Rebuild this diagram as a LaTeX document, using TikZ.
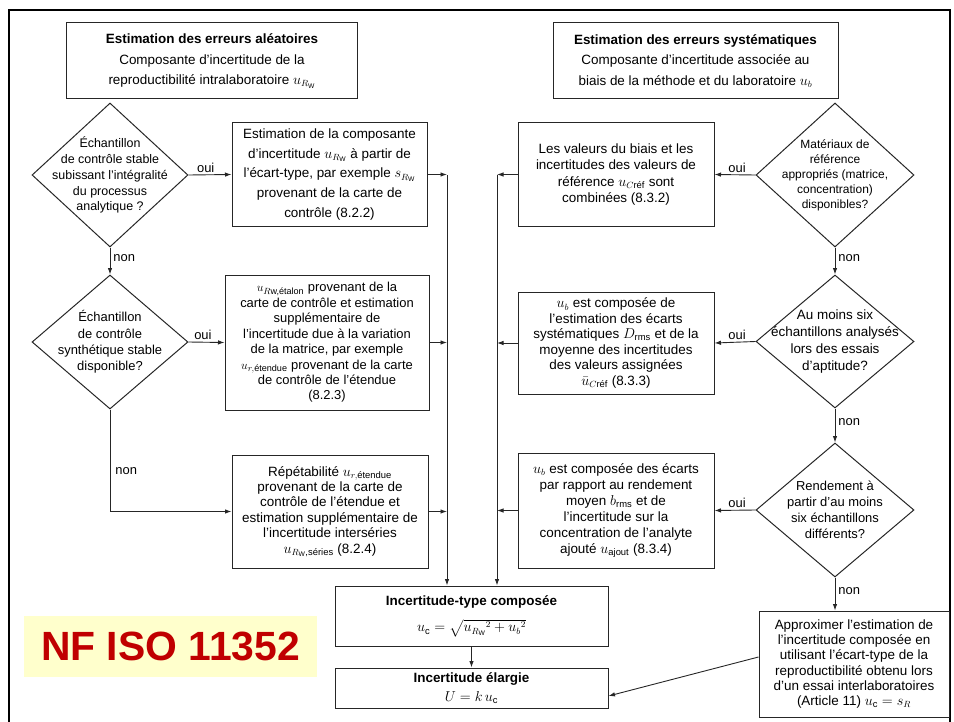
\documentclass[tikz,border=0pt]{standalone}
\usepackage{amsmath}
\usepackage{fontspec}
\setmainfont{Liberation Sans}
\usetikzlibrary{shapes.geometric,arrows.meta}
\definecolor{nfred}{HTML}{C00000}
\definecolor{nfyellow}{HTML}{FFFFCC}
\begin{document}
\begin{tikzpicture}[x=1bp,y=-1bp,
  conn/.style={line width=0.9bp, draw=black!85},
  arr/.style={conn, -{Latex[length=6.5bp,width=4.5bp]}},
  box/.style={draw=black!85, line width=1bp, rectangle, align=center, inner sep=0pt},
  dia/.style={draw=black!85, line width=1bp, diamond, inner sep=0pt},
  txt/.style={align=center, inner sep=0pt},
  lab/.style={font=\fontsize{13}{15}\selectfont, inner sep=1bp},
]
\useasboundingbox (0,0) rectangle (954,722);
% frame
\draw[line width=2.8bp] (9,722) -- (9,10) -- (950,10) -- (950,722);

% top boxes
\node[box, minimum width=290bp, minimum height=76bp, font=\fontsize{13.5}{20.5}\selectfont] (tl) at (212,61)
  {\textbf{Estimation des erreurs aléatoires}\\Composante d'incertitude de la\\reproductibilité intralaboratoire $u_{R_\mathrm{W}}$};
\node[box, minimum width=285bp, minimum height=76bp, font=\fontsize{13.5}{20.5}\selectfont] (tr) at (695.5,61)
  {\textbf{Estimation des erreurs systématiques}\\Composante d'incertitude associée au\\biais de la méthode et du laboratoire $u_b$};

% left column
\node[dia, minimum width=156bp, minimum height=144bp] (dl1) at (110,175) {};
\node[txt, font=\fontsize{12.5}{16}\selectfont] at (dl1.center)
  {Échantillon\\de contrôle stable\\subissant l'intégralité\\du processus\\analytique ?};
\node[box, minimum width=195bp, minimum height=103bp, font=\fontsize{13.5}{20}\selectfont] (L1) at (329.5,174.5)
  {Estimation de la composante\\d'incertitude $u_{R_\mathrm{W}}$ à partir de\\l'écart-type, par exemple $s_{R_\mathrm{W}}$\\provenant de la carte de\\contrôle (8.2.2)};

\node[dia, minimum width=156bp, minimum height=134bp] (dl2) at (110,342) {};
\node[txt, font=\fontsize{13}{16.5}\selectfont] at (dl2.center)
  {Échantillon\\de contrôle\\synthétique stable\\disponible?};
\node[box, minimum width=204bp, minimum height=135bp, font=\fontsize{13}{15.5}\selectfont] (L2) at (327,342.5)
  {$u_{R\text{w,étalon}}$ provenant de la\\carte de contrôle et estimation\\supplémentaire de\\l'incertitude due à la variation\\de la matrice, par exemple\\$u_{r,\text{étendue}}$ provenant de la carte\\de contrôle de l'étendue\\(8.2.3)};

\node[box, minimum width=196bp, minimum height=113bp, font=\fontsize{13.5}{15.5}\selectfont] (L3) at (330,511.5)
  {Répétabilité $u_{r,\text{étendue}}$\\provenant de la carte de\\contrôle de l'étendue et\\estimation supplémentaire de\\l'incertitude interséries\\$u_{R_\mathrm{W}\text{,séries}}$ (8.2.4)};

% right column
\node[dia, minimum width=158bp, minimum height=144bp] (dr1) at (835,175) {};
\node[txt, font=\fontsize{12}{15}\selectfont] at (dr1.center)
  {Matériaux de\\référence\\appropriés (matrice,\\concentration)\\disponibles?};
\node[box, minimum width=196bp, minimum height=103bp, font=\fontsize{13.5}{16.7}\selectfont] (R1) at (616,174.5)
  {Les valeurs du biais et les\\incertitudes des valeurs de\\référence $u_{C\text{réf}}$ sont\\combinées (8.3.2)};

\node[dia, minimum width=158bp, minimum height=133bp] (dr2) at (835,341.5) {};
\node[txt, font=\fontsize{13.5}{17}\selectfont] at (dr2.center)
  {Au moins six\\échantillons analysés\\lors des essais\\d'aptitude?};
\node[box, minimum width=196bp, minimum height=102bp, font=\fontsize{13.5}{15.5}\selectfont] (R2) at (616,343)
  {$u_b$ est composée de\\l'estimation des écarts\\systématiques $D_\text{rms}$ et de la\\moyenne des incertitudes\\des valeurs assignées\\$\bar{u}_{C\text{réf}}$ (8.3.3)};

\node[dia, minimum width=158bp, minimum height=134bp] (dr3) at (835,510) {};
\node[txt, font=\fontsize{13}{16}\selectfont] at (dr3.center)
  {Rendement à\\partir d'au moins\\six échantillons\\différents?};
\node[box, minimum width=196bp, minimum height=115bp, font=\fontsize{13.5}{16}\selectfont] (R3) at (616,510.5)
  {$u_b$ est composée des écarts\\par rapport au rendement\\moyen $b_\text{rms}$ et de\\l'incertitude sur la\\concentration de l'analyte\\ajouté $u_\text{ajout}$ (8.3.4)};

% bottom
\node[box, minimum width=273bp, minimum height=60bp, font=\fontsize{13.5}{27}\selectfont] (comp) at (471.5,616)
  {\textbf{Incertitude-type composée}\\$u_\mathrm{c} = \sqrt{{u_{R_\mathrm{W}}}^2 + {u_b}^2}$};
\node[box, minimum width=273bp, minimum height=40bp, font=\fontsize{13.5}{19}\selectfont] (elar) at (471.5,688)
  {\textbf{Incertitude élargie}\\$U = k\,u_\mathrm{c}$};
\node[box, minimum width=190bp, minimum height=106bp, font=\fontsize{13.5}{15.3}\selectfont] (appr) at (854,664)
  {Approximer l'estimation de\\l'incertitude composée en\\utilisant l'écart-type de la\\reproductibilité obtenu lors\\d'un essai interlaboratoires\\(Article 11) $u_\mathrm{c} = s_R$};

\node[fill=nfyellow, minimum width=293bp, minimum height=61bp, inner sep=0pt,
      font=\fontsize{41}{41}\selectfont\bfseries, text=nfred] (nf) at (170.5,646.5) {NF ISO 11352};

% junction coordinates
\coordinate (jl) at (447,175);
\coordinate (jr) at (497,175);

% left connectors
\draw[arr] (dl1.east) -- node[lab, above=1bp, pos=0.4] {oui} (L1.west);
\draw[arr] (dl1.south) -- node[lab, right=2bp, pos=0.4] {non} (dl2.north);
\draw[arr] (dl2.east) -- node[lab, above=1bp, pos=0.4] {oui} (L2.west);
\draw[arr] (dl2.south) |- node[lab, right=4bp, pos=0.3] {non} (L3.west);
\draw[arr] (L1.east) -- (L1.east -| jl);
\draw[arr] (L2.east) -- (L2.east -| jl);
\draw[arr] (L3.east) -- (L3.east -| jl);
\draw[arr] (jl) -- (jl |- comp.north);

% right connectors
\draw[arr] (dr1.west) -- node[lab, above=1bp, pos=0.45] {oui} (R1.east);
\draw[arr] (dr1.south) -- node[lab, right=2bp, pos=0.4] {non} (dr2.north);
\draw[arr] (dr2.west) -- node[lab, above=1bp, pos=0.45] {oui} (R2.east);
\draw[arr] (dr2.south) -- node[lab, right=2bp, pos=0.4] {non} (dr3.north);
\draw[arr] (dr3.west) -- node[lab, above=1bp, pos=0.45] {oui} (R3.east);
\draw[arr] (dr3.south) -- node[lab, right=2bp, pos=0.4] {non} (dr3.south |- appr.north);
\draw[arr] (R1.west) -- (R1.west -| jr);
\draw[arr] (R2.west) -- (R2.west -| jr);
\draw[arr] (R3.west) -- (R3.west -| jr);
\draw[arr] (jr) -- (jr |- comp.north);

% bottom connectors
\draw[arr] (comp.south) -- (elar.north);
\draw[arr] ([yshift=7bp]appr.west) -- ([yshift=-8bp]elar.east);
\end{tikzpicture}
\end{document}
